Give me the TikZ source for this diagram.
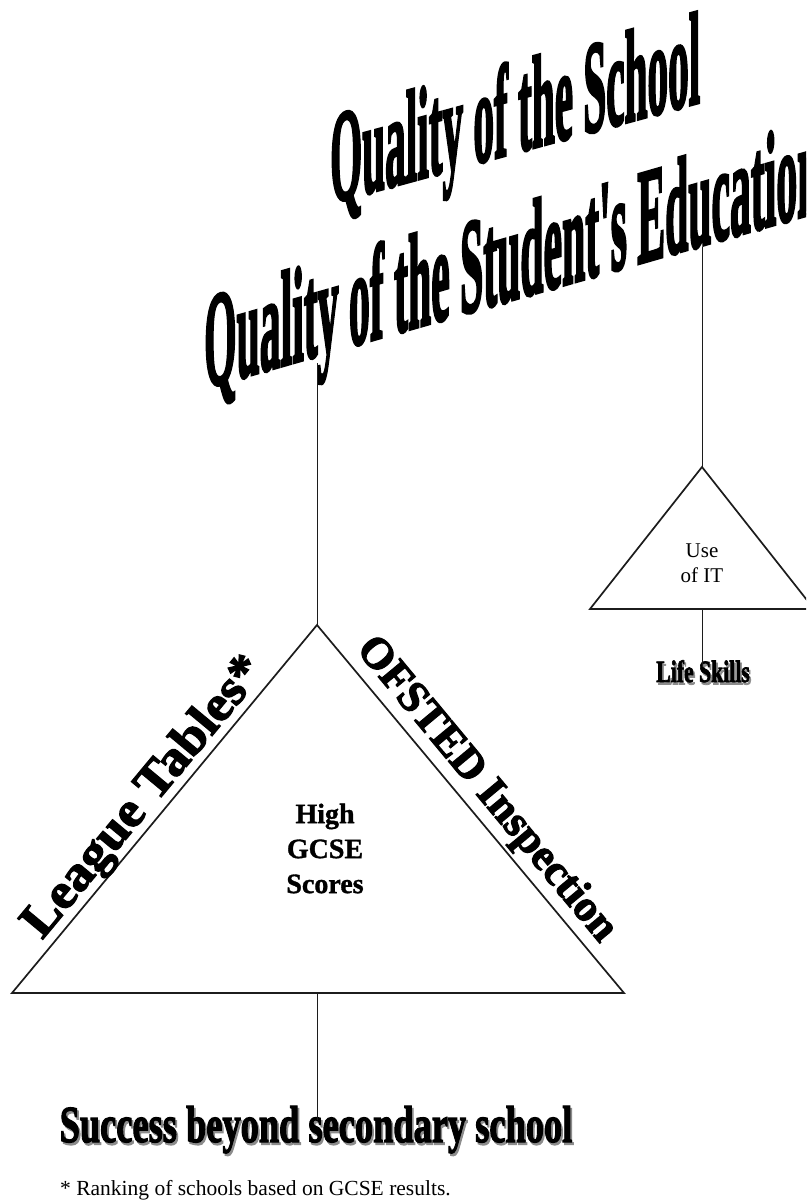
\documentclass[tikz,border=0pt]{standalone}
\usepackage{fontspec}
\setmainfont{Liberation Serif}
\newfontfamily\heavyfont{Liberation Serif}[BoldFeatures={FakeBold=2.5}]
\newfontfamily\titlefont{Liberation Serif}[BoldFeatures={FakeBold=3}]
\newfontfamily\labelfont{Liberation Serif}[BoldFeatures={FakeBold=1.2}]
\usepackage{graphicx}
\usepackage{xcolor}
\definecolor{ink}{HTML}{1C1C1C}
\definecolor{shade}{HTML}{8C8C8C}
% text with a soft grey drop shadow
\newcommand{\shadowed}[1]{\makebox[0pt][l]{\hspace{2.5pt}\raisebox{-2.5pt}{\textcolor{shade}{#1}}}#1}
\tikzset{
  tri/.style={draw=ink, line width=1.7pt, line join=miter},
  conn/.style={draw=ink, line width=1pt},
  plain/.style={inner sep=0pt, text=black},
}
\begin{document}
\begin{tikzpicture}[x=1pt,y=-1pt]
\useasboundingbox (0,0) rectangle (806,1202);
\clip (0,0) rectangle (806,1202);
\fill[white] (0,0) rectangle (806,1202);

% slanted headings
\begin{scope}[shift={(330,203)}, yslant=0.273]
  \node[plain, anchor=base west, transform shape] (title1) at (0,0)
    {\resizebox{370pt}{92pt}{\titlefont\bfseries Quality of the School}};
\end{scope}
\begin{scope}[shift={(204,388)}, yslant=0.287]
  \node[plain, anchor=base west, transform shape] (title2) at (0,0)
    {\resizebox{616pt}{95pt}{\titlefont\bfseries Quality of the Student\textquotesingle s Education}};
\end{scope}

% corner points
\coordinate (A)  at (317,625);
\coordinate (BL) at (12,993);
\coordinate (BR) at (624,993);
\coordinate (a2) at (702,467);
\coordinate (l2) at (590,609);
\coordinate (r2) at (814,609);
\coordinate (qtop) at (317,363);
\coordinate (itop) at (702,247);
\coordinate (bmid) at (317,993);
\coordinate (bmid2) at (702,609);
\coordinate (stop) at (317,1120);
\coordinate (lstop) at (702,667);

% triangles
\draw[tri] (A) -- (BR) -- (BL) -- cycle;
\draw[tri] (a2) -- (r2) -- (l2) -- cycle;

% labels
\node[plain, align=center, font=\labelfont\bfseries\fontsize{28}{35}\selectfont] (gcse) at (325,848.5) {High\\GCSE\\Scores};
\node[plain, align=center, font=\fontsize{21}{25}\selectfont] (useit) at (702,563.5) {Use\\of IT};
\node[plain, rotate=50.26, font=\heavyfont\bfseries\fontsize{50}{50}\selectfont] (league) at (145,798) {\scalebox{1.06}[1]{League Tables*}};
\node[plain, rotate=-50.26, font=\heavyfont\bfseries\fontsize{44}{44}\selectfont] (ofsted) at (486,790) {OFSTED Inspection};
\node[plain, anchor=base, font=\heavyfont\bfseries\fontsize{52}{52}\selectfont] (success) at (316,1142) {\scalebox{0.7}[1]{\shadowed{Success beyond secondary school}}};
\node[plain, anchor=base, font=\heavyfont\bfseries\fontsize{31}{31}\selectfont] (life) at (703,682) {\scalebox{0.7}[1]{\shadowed{Life Skills}}};
\node[plain, anchor=base west, font=\fontsize{21.5}{22}\selectfont] (note) at (60,1195) {* Ranking of schools based on GCSE results.};

% connectors
\draw[conn] (qtop) -- (A);
\draw[conn] (itop) -- (a2);
\draw[conn] (bmid) -- (stop);
\draw[conn] (bmid2) -- (lstop);
\end{tikzpicture}
\end{document}
